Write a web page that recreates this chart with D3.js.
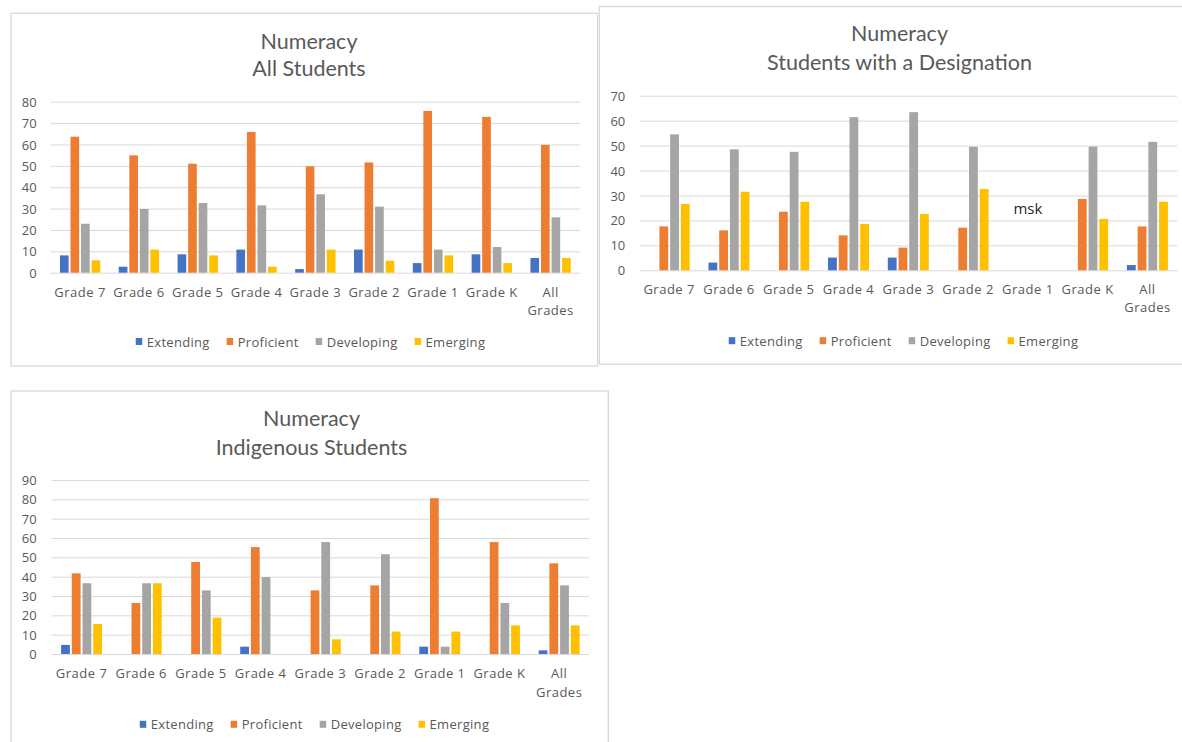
<!DOCTYPE html>
<html>
<head>
<meta charset="utf-8">
<script src="https://cdn.jsdelivr.net/npm/d3@7/dist/d3.min.js"></script>
<style>
  html, body { margin: 0; padding: 0; background: #ffffff; }
  svg { display: block; }
</style>
</head>
<body>
<svg id="root" width="1182" height="742"></svg>
<script>
// ---------- data ----------
const categories = ["Grade 7", "Grade 6", "Grade 5", "Grade 4", "Grade 3", "Grade 2", "Grade 1", "Grade K", "All Grades"];
const seriesNames = ["Extending", "Proficient", "Developing", "Emerging"];
const seriesColors = ["#4472C4", "#ED7D31", "#A5A5A5", "#FFC000"];

// Chart 1: All Students
const allExtending  = [8.1, 2.8, 8.6, 10.8, 1.7, 10.8, 4.5, 8.6, 6.9];
const allProficient = [63.6, 54.9, 51, 65.8, 49.8, 51.6, 75.7, 72.9, 59.8];
const allDeveloping = [22.9, 29.8, 32.6, 31.5, 36.7, 30.9, 10.8, 12, 25.9];
const allEmerging   = [5.8, 10.8, 8.1, 2.8, 10.8, 5.6, 8.1, 4.5, 6.9];
const allTicks = [0, 10, 20, 30, 40, 50, 60, 70, 80];

// Chart 2: Students with a Designation (Grade 1 masked)
const desExtending  = [0, 3.1, 0, 5.1, 5.1, 0, null, 0, 2.1];
const desProficient = [17.6, 16, 23.5, 14, 9.1, 17.1, null, 28.6, 17.6];
const desDeveloping = [54.5, 48.5, 47.5, 61.4, 63.4, 49.5, null, 49.6, 51.5];
const desEmerging   = [26.6, 31.5, 27.5, 18.6, 22.6, 32.6, null, 20.6, 27.5];
const desTicks = [0, 10, 20, 30, 40, 50, 60, 70];
const desNotes = [{ category: "Grade 1", value: 25, text: "msk" }];

// Chart 3: Indigenous Students
const indExtending  = [4.7, 0, 0, 3.8, 0, 0, 3.8, 0, 1.9];
const indProficient = [41.7, 26.4, 47.6, 55.3, 32.9, 35.5, 80.6, 57.9, 46.9];
const indDeveloping = [36.6, 36.6, 32.9, 39.8, 57.9, 51.6, 3.8, 26.4, 35.5];
const indEmerging   = [15.5, 36.6, 18.8, 0, 7.6, 11.6, 11.6, 14.8, 14.8];
const indTicks = [0, 10, 20, 30, 40, 50, 60, 70, 80, 90];

const titleMain = "Numeracy";
const titleAll = "All Students";
const titleDes = "Students with a Designation";
const titleInd = "Indigenous Students";

// ---------- drawing ----------
const svg = d3.select("#root");
svg.append("rect").attr("width", 1182).attr("height", 742).attr("fill", "#ffffff");

const TEXT = "#595959";
const GRID = "#D9D9D9";
const AXISFONT = "'Open Sans', 'DejaVu Sans', sans-serif";
const TITLEFONT = "Lato, 'Open Sans', sans-serif";

function drawChart(cfg) {
  const g = svg.append("g");
  // frame
  g.append("rect")
    .attr("x", cfg.box[0]).attr("y", cfg.box[1])
    .attr("width", cfg.box[2]).attr("height", cfg.box[3])
    .attr("fill", "#ffffff").attr("stroke", GRID).attr("stroke-width", 1.3);

  // titles
  cfg.titles.forEach((t, i) => {
    g.append("text")
      .attr("x", cfg.titleX).attr("y", cfg.titleY[i])
      .attr("text-anchor", "middle").attr("dominant-baseline", "central")
      .attr("font-family", TITLEFONT).attr("font-size", 21.5)
      .attr("fill", TEXT).text(t);
  });

  const x0 = d3.scaleBand().domain(categories)
    .range([cfg.plot[0], cfg.plot[1]]).paddingInner(0.25).paddingOuter(0.125);
  const x1 = d3.scaleBand().domain(seriesNames)
    .range([0, x0.bandwidth()]).padding(0.18);
  const yMax = cfg.ticks[cfg.ticks.length - 1];
  const y = d3.scaleLinear().domain([0, yMax]).range([cfg.plot[2], cfg.plot[3]]);

  // gridlines
  const grid = g.append("g")
    .attr("transform", `translate(${cfg.plot[0]},0)`)
    .call(d3.axisLeft(y).tickValues(cfg.ticks).tickSize(-(cfg.plot[1] - cfg.plot[0])).tickFormat(""));
  grid.select(".domain").remove();
  grid.selectAll("line").attr("stroke", GRID).attr("stroke-width", 1);

  // y labels
  const ya = g.append("g")
    .attr("transform", `translate(${cfg.plot[0]},0)`)
    .call(d3.axisLeft(y).tickValues(cfg.ticks).tickSize(0).tickPadding(cfg.yPad));
  ya.select(".domain").remove();
  ya.selectAll("text").attr("font-family", AXISFONT).attr("font-size", 13)
    .attr("fill", TEXT).attr("dy", "0.35em");

  // bars
  const rows = categories.map((c, i) => ({ cat: c, vals: cfg.series.map(s => s[i]) }));
  const grp = g.selectAll(".grp").data(rows).join("g")
    .attr("transform", d => `translate(${x0(d.cat)},0)`);
  grp.selectAll("rect")
    .data(d => d.vals.map((v, k) => ({ k, v })).filter(e => e.v !== null && e.v > 0))
    .join("rect")
    .attr("x", e => x1(seriesNames[e.k]))
    .attr("width", x1.bandwidth())
    .attr("y", e => y(e.v))
    .attr("height", e => y(0) - y(e.v))
    .attr("fill", e => seriesColors[e.k]);

  // x labels
  const xa = g.append("g")
    .attr("transform", `translate(0,${cfg.plot[2]})`)
    .call(d3.axisBottom(x0).tickSize(0).tickPadding(0));
  xa.select(".domain").remove();
  xa.selectAll("text").each(function (d) {
    const t = d3.select(this);
    t.text(null).attr("y", 0).attr("dy", null)
      .attr("font-family", AXISFONT).attr("font-size", 13)
      .attr("fill", TEXT).attr("letter-spacing", "0.5px")
      .attr("dominant-baseline", "central");
    const words = d.split(" ");
    const lines = (d.length > 8) ? words : [d];
    lines.forEach((w, i) => {
      t.append("tspan").attr("x", 0).attr("y", cfg.xLabY[i] - cfg.plot[2]).text(w);
    });
  });

  // notes
  (cfg.notes || []).forEach(n => {
    g.append("text")
      .attr("x", x0(n.category) + x0.bandwidth() / 2)
      .attr("y", y(n.value))
      .attr("text-anchor", "middle").attr("dominant-baseline", "central")
      .attr("font-family", AXISFONT).attr("font-size", 15)
      .attr("fill", "#262626").text(n.text);
  });

  // legend
  const leg = g.append("g");
  let cx = 0;
  seriesNames.forEach((s, k) => {
    const it = leg.append("g");
    it.append("rect").attr("x", 0).attr("y", -3.5).attr("width", 6.5).attr("height", 7)
      .attr("fill", seriesColors[k]);
    const tx = it.append("text").attr("x", 11).attr("y", 0)
      .attr("dominant-baseline", "central")
      .attr("font-family", AXISFONT).attr("font-size", 13)
      .attr("letter-spacing", "0.3px")
      .attr("fill", TEXT).text(s);
    const w = 11 + tx.node().getComputedTextLength();
    it.attr("transform", `translate(${cx},0)`);
    cx += w + 17;
  });
  const total = cx - 17;
  leg.attr("transform", `translate(${cfg.legendX - total / 2},${cfg.legendY})`);
}

drawChart({
  box: [11, 13.3, 586.5, 352.7],
  plot: [50.7, 580, 272.7, 101.7],
  ticks: allTicks, yPad: 14,
  titles: [titleMain, titleAll], titleX: 309, titleY: [40.7, 68.3],
  series: [allExtending, allProficient, allDeveloping, allEmerging],
  xLabY: [292, 310], legendX: 310.5, legendY: 341.5
});

drawChart({
  box: [599.3, 6.5, 620, 357.8],
  plot: [639.3, 1177.3, 270.3, 95.7],
  ticks: desTicks, yPad: 14,
  titles: [titleMain, titleDes], titleX: 899.5, titleY: [33.3, 62.3],
  series: [desExtending, desProficient, desDeveloping, desEmerging],
  xLabY: [289.3, 307.3], legendX: 903.5, legendY: 340.7,
  notes: desNotes
});

drawChart({
  box: [11, 391, 597.3, 400],
  plot: [51.7, 589, 654, 480],
  ticks: indTicks, yPad: 15,
  titles: [titleMain, titleInd], titleX: 311.5, titleY: [418.3, 446.7],
  series: [indExtending, indProficient, indDeveloping, indEmerging],
  xLabY: [673.3, 691.7], legendX: 314.5, legendY: 724.3
});
</script>
</body>
</html>
